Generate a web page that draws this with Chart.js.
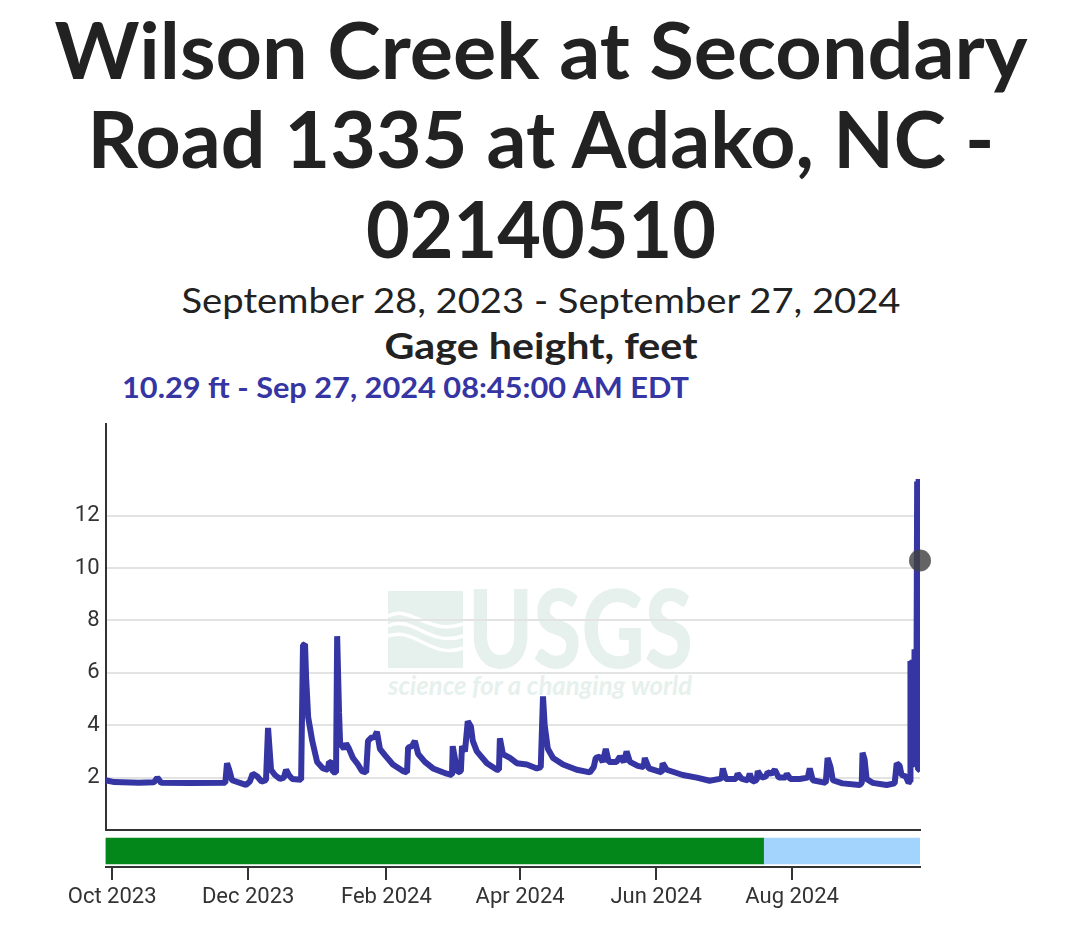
<!DOCTYPE html>
<html>
<head>
<meta charset="utf-8">
<script src="https://cdn.jsdelivr.net/npm/chart.js@4.4.1/dist/chart.umd.min.js"></script>
<style>
  body { margin: 0; background: #fff; width: 1079px; height: 929px; overflow: hidden; position: relative; }
  svg, canvas { position: absolute; left: 0; }
  #head { top: 0; }
  #mark { top: 0; }
  #main { top: 413px; }
  #status { top: 830px; }
</style>
</head>
<body>
<svg id="head" width="1079" height="410" xmlns="http://www.w3.org/2000/svg">
  <g font-family="'Source Sans Pro', Lato, sans-serif" text-anchor="middle" fill="#222">
    <text x="541" y="79" font-size="78" font-weight="700" textLength="973" lengthAdjust="spacingAndGlyphs">Wilson Creek at Secondary</text>
    <text x="541" y="168" font-size="78" font-weight="700" textLength="907" lengthAdjust="spacingAndGlyphs">Road 1335 at Adako, NC -</text>
    <text x="541" y="258" font-size="78" font-weight="700" textLength="350" lengthAdjust="spacingAndGlyphs">02140510</text>
    <text x="541" y="313" font-size="35" font-weight="400" textLength="719" lengthAdjust="spacingAndGlyphs">September 28, 2023 - September 27, 2024</text>
    <text x="541" y="359" font-size="36" font-weight="700" textLength="313" lengthAdjust="spacingAndGlyphs">Gage height, feet</text>
    <text x="122" y="398" text-anchor="start" font-size="29" font-weight="700" fill="#3535a3" textLength="567" lengthAdjust="spacingAndGlyphs">10.29 ft - Sep 27, 2024 08:45:00 AM EDT</text>
  </g>
</svg>

<!-- USGS watermark, behind the plot -->
<svg id="mark" width="1079" height="929" xmlns="http://www.w3.org/2000/svg">
  <g fill="#e6f0ec">
    <rect x="388" y="591" width="75" height="77"/>
    <g fill="none" stroke="#fff" stroke-width="3.5">
      <path d="M388,616 C410,604 428,636 463,624"/>
      <path d="M388,626 C412,614 430,648 463,636"/>
      <path d="M388,636 C414,626 432,660 463,648"/>
    </g>
    <text x="468" y="668" font-family="Lato, sans-serif" font-weight="900" font-size="108" textLength="225" lengthAdjust="spacingAndGlyphs">USGS</text>
    <text x="388" y="695" font-family="Lato, sans-serif" font-weight="700" font-style="italic" font-size="27" textLength="304" lengthAdjust="spacingAndGlyphs">science for a changing world</text>
  </g>
</svg>

<canvas id="main" width="1079" height="428"></canvas>
<canvas id="status" width="1079" height="99"></canvas>

<script>
// period shown on the x axis
const startTime = "2023-09-28T00:00";
const endTime = "2024-09-27T08:45";

// gage height readings, feet
const obsDates = [
  "2023-09-28T00:00","2023-10-02T00:00","2023-10-13T00:00","2023-10-19T18:00","2023-10-21T06:00",
  "2023-10-23T00:00","2023-11-05T00:00","2023-11-20T18:00","2023-11-21T12:00","2023-11-22T12:00",
  "2023-11-23T18:00","2023-11-30T00:00","2023-12-01T18:00","2023-12-03T00:00","2023-12-05T00:00",
  "2023-12-07T00:00","2023-12-09T00:00","2023-12-09T22:00","2023-12-11T06:00","2023-12-13T00:00",
  "2023-12-15T06:00","2023-12-17T00:00","2023-12-18T00:00","2023-12-19T06:00","2023-12-20T18:00",
  "2023-12-24T18:00","2023-12-25T14:00","2023-12-26T12:00","2023-12-27T00:00","2023-12-27T22:00",
  "2023-12-29T18:00","2023-12-31T22:00","2024-01-03T14:00","2024-01-05T18:00","2024-01-06T06:00",
  "2024-01-07T18:00","2024-01-08T00:00","2024-01-09T10:00","2024-01-09T22:00","2024-01-10T18:00",
  "2024-01-11T06:00","2024-01-13T00:00","2024-01-13T22:00","2024-01-15T06:00","2024-01-17T00:00",
  "2024-01-19T06:00","2024-01-21T00:00","2024-01-22T22:00","2024-01-23T18:00","2024-01-25T14:00",
  "2024-01-26T10:00","2024-01-27T18:00","2024-01-29T02:00","2024-01-31T10:00","2024-02-03T22:00",
  "2024-02-08T10:00","2024-02-10T06:00","2024-02-10T18:00","2024-02-12T12:00","2024-02-13T18:00",
  "2024-02-15T06:00","2024-02-18T06:00","2024-02-21T22:00","2024-02-28T02:00","2024-03-01T10:00",
  "2024-03-01T18:00","2024-03-03T06:00","2024-03-04T00:00","2024-03-05T10:00","2024-03-05T22:00",
  "2024-03-07T06:00","2024-03-08T12:00","2024-03-09T22:00","2024-03-10T18:00","2024-03-12T14:00",
  "2024-03-17T02:00","2024-03-21T14:00","2024-03-22T12:00","2024-03-22T22:00","2024-03-24T06:00",
  "2024-03-27T10:00","2024-03-30T12:00","2024-04-04T00:00","2024-04-08T12:00","2024-04-10T06:00",
  "2024-04-11T06:00","2024-04-12T00:00","2024-04-13T10:00","2024-04-15T18:00","2024-04-20T06:00",
  "2024-04-26T10:00","2024-05-02T06:00","2024-05-04T00:00","2024-05-04T22:00","2024-05-06T18:00",
  "2024-05-08T02:00","2024-05-09T10:00","2024-05-10T18:00","2024-05-14T06:00","2024-05-15T18:00",
  "2024-05-17T12:00","2024-05-18T18:00","2024-05-20T06:00","2024-05-23T18:00","2024-05-26T10:00",
  "2024-05-26T22:00","2024-05-28T18:00","2024-06-03T12:00","2024-06-03T22:00","2024-06-05T18:00",
  "2024-06-12T22:00","2024-06-19T06:00","2024-06-25T00:00","2024-06-29T12:00","2024-06-30T10:00",
  "2024-06-30T22:00","2024-07-02T06:00","2024-07-06T18:00","2024-07-07T14:00","2024-07-09T10:00",
  "2024-07-12T02:00","2024-07-13T00:00","2024-07-14T06:00","2024-07-16T02:00","2024-07-16T14:00",
  "2024-07-18T10:00","2024-07-20T06:00","2024-07-21T00:00","2024-07-22T18:00","2024-07-24T06:00",
  "2024-07-26T00:00","2024-07-29T02:00","2024-07-29T14:00","2024-07-31T06:00","2024-08-04T10:00",
  "2024-08-08T00:00","2024-08-08T22:00","2024-08-10T06:00","2024-08-16T02:00","2024-08-16T22:00",
  "2024-08-18T06:00","2024-08-19T06:00","2024-08-23T14:00","2024-08-31T06:00","2024-09-01T06:00",
  "2024-09-01T14:00","2024-09-02T12:00","2024-09-03T10:00","2024-09-06T02:00","2024-09-12T10:00",
  "2024-09-16T00:00","2024-09-16T22:00","2024-09-18T06:00","2024-09-19T02:00","2024-09-20T22:00",
  "2024-09-22T06:00","2024-09-22T22:00","2024-09-23T02:00","2024-09-23T14:00","2024-09-24T00:00",
  "2024-09-24T12:00","2024-09-24T22:00","2024-09-25T10:00","2024-09-25T20:00","2024-09-26T02:00",
  "2024-09-26T12:00","2024-09-26T18:00","2024-09-26T22:00","2024-09-27T08:45"
];
const gageFeet = [
  1.90,1.83,1.80,1.82,2.00,
  1.80,1.79,1.80,2.55,2.30,
  1.90,1.72,1.85,2.15,2.05,
  1.85,1.90,3.90,2.30,2.10,
  1.95,2.00,2.30,2.10,1.95,
  1.92,7.05,7.10,5.80,4.30,
  3.40,2.60,2.35,2.30,2.60,
  2.55,2.20,2.20,7.40,4.50,
  3.30,3.10,3.30,3.10,2.75,
  2.50,2.25,2.20,3.40,3.55,
  3.50,3.75,3.10,2.85,2.50,
  2.25,2.20,3.15,3.20,3.40,
  2.90,2.60,2.35,2.15,2.10,
  3.20,2.50,2.20,2.25,3.20,
  3.00,4.15,3.95,3.40,3.00,
  2.55,2.30,2.30,3.50,2.90,
  2.75,2.55,2.50,2.35,2.40,
  5.10,4.00,3.10,2.75,2.50,
  2.30,2.20,2.40,2.75,2.80,
  2.60,3.10,2.60,2.60,2.80,
  2.60,3.00,2.60,2.45,2.40,
  2.75,2.35,2.20,2.55,2.30,
  2.10,2.00,1.88,1.95,2.00,
  2.35,1.95,1.95,2.15,1.95,
  1.90,2.15,1.85,1.90,2.25,
  2.00,2.05,2.20,2.15,2.30,
  2.00,2.00,2.15,1.95,1.95,
  2.00,2.35,1.90,1.80,2.75,
  2.40,1.90,1.78,1.72,1.80,
  2.95,2.70,1.95,1.80,1.72,
  1.78,2.55,2.45,2.10,2.05,
  1.80,1.85,6.45,2.50,6.50,
  2.40,6.90,2.40,6.90,13.30,
  2.30,13.40,2.35,10.29
];

// y axis labels
const yTickValues = [2, 4, 6, 8, 10, 12];

// x axis labels
const monthTickDates = ["2023-10-01T00:00","2023-12-01T00:00","2024-02-01T00:00","2024-04-01T00:00","2024-06-01T00:00","2024-08-01T00:00"];
const monthTickLabels = ["Oct 2023","Dec 2023","Feb 2024","Apr 2024","Jun 2024","Aug 2024"];

// data approval status strip
const statusNames = ["Approved", "Provisional"];
const statusFrom = ["2023-09-28T00:00", "2024-07-19T12:00"];
const statusTo = ["2024-07-19T12:00", "2024-09-27T08:45"];
const statusColors = ["#03871b", "#a3d4fd"];

const ms = s => new Date(s).getTime();
const tickFont = { family: "Roboto", size: 22 };
const lastIdx = obsDates.length - 1;

new Chart(document.getElementById("main"), {
  type: "line",
  data: {
    datasets: [
      {
        data: [{ x: ms(obsDates[lastIdx]), y: gageFeet[lastIdx] }],
        showLine: false,
        pointRadius: 11,
        pointBorderWidth: 0,
        pointBackgroundColor: "rgba(66,66,66,0.82)",
        clip: false,
        order: 0
      },
      {
        data: obsDates.map((d, i) => ({ x: ms(d), y: gageFeet[i] })),
        borderColor: "#3535a3",
        borderWidth: 6,
        borderJoinStyle: "bevel",
        pointRadius: 0,
        tension: 0,
        order: 1
      }
    ]
  },
  options: {
    responsive: false,
    animation: false,
    events: [],
    layout: { padding: { top: 10, right: 159, bottom: 4, left: 0 } },
    plugins: { legend: { display: false }, tooltip: { enabled: false } },
    scales: {
      x: {
        type: "linear",
        min: ms(startTime),
        max: ms(endTime),
        ticks: { display: false },
        grid: { display: false },
        border: { display: true, color: "#333", width: 2 },
        afterFit: s => { s.height = 0; s.paddingLeft = 0; s.paddingRight = 0; }
      },
      y: {
        min: 0,
        max: 15.5,
        afterBuildTicks: s => { s.ticks = yTickValues.map(v => ({ value: v })); },
        ticks: { font: tickFont, color: "#333", padding: 6 },
        grid: { color: "#e3e3e3", lineWidth: 2, drawTicks: false },
        border: { color: "#333", width: 2 },
        afterFit: s => { s.width = 105.5; s.paddingTop = 0; s.paddingBottom = 0; }
      }
    }
  }
});

new Chart(document.getElementById("status"), {
  type: "bar",
  data: {
    labels: ["status"],
    datasets: [{
      data: statusNames.map((n, i) => ({ y: "status", x: [ms(statusFrom[i]), ms(statusTo[i])] })),
      backgroundColor: statusColors,
      barThickness: 26,
      borderWidth: 0,
      borderSkipped: false
    }]
  },
  options: {
    indexAxis: "y",
    responsive: false,
    animation: false,
    events: [],
    layout: { padding: { top: 5, right: 159, bottom: 0, left: 105.5 } },
    plugins: { legend: { display: false }, tooltip: { enabled: false } },
    scales: {
      x: {
        type: "linear",
        min: ms(startTime),
        max: ms(endTime),
        afterBuildTicks: s => { s.ticks = monthTickDates.map(d => ({ value: ms(d) })); },
        ticks: {
          callback: (v, i) => monthTickLabels[i],
          font: tickFont,
          color: "#333",
          padding: 4,
          maxRotation: 0,
          autoSkip: false
        },
        grid: { drawOnChartArea: false, drawTicks: true, tickLength: 13, color: "#333", lineWidth: 2 },
        border: { color: "#333", width: 2 },
        afterFit: s => { s.height = 62; }
      },
      y: { display: false }
    }
  }
});
</script>
</body>
</html>
